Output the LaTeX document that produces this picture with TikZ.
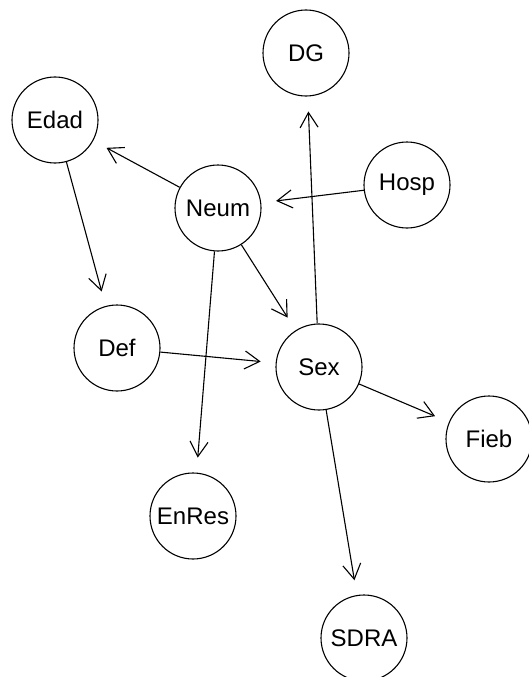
\documentclass[tikz,border=0pt]{standalone}
\usepackage{fontspec}
\setmainfont{Liberation Sans}
\usetikzlibrary{arrows.meta}
\begin{document}
\begin{tikzpicture}[x=1pt, y=-1pt,
  var/.style={circle, draw, line width=1.1pt, minimum size=86pt, inner sep=0pt,
              font=\fontsize{24}{28}\selectfont},
  edge/.style={line width=1.1pt, -{Straight Barb[length=15pt, width=18pt, line width=1.1pt]},
               shorten >=15pt}]
  \useasboundingbox (0,0) rectangle (529,677);
  \clip (0,0) rectangle (529,677);
  \node[var] (DG)    at (306, 53)  {DG};
  \node[var] (Edad)  at (55, 120)  {Edad};
  \node[var] (Hosp)  at (407, 185) {Hosp};
  \node[var] (Neum)  at (218, 208) {Neum};
  \node[var] (Def)   at (117, 348) {Def};
  \node[var] (Sex)   at (319, 367) {Sex};
  \node[var] (Fieb)  at (489, 439) {Fieb};
  \node[var] (EnRes) at (193, 516) {EnRes};
  \node[var] (SDRA)  at (364, 638) {SDRA};
  \draw[edge] (Neum) -- (Edad);
  \draw[edge] (Edad) -- (Def);
  \draw[edge] (Hosp) -- (Neum);
  \draw[edge] (Neum) -- (Sex);
  \draw[edge] (Sex) -- (DG);
  \draw[edge] (Neum) -- (EnRes);
  \draw[edge] (Def) -- (Sex);
  \draw[edge] (Sex) -- (Fieb);
  \draw[edge] (Sex) -- (SDRA);
\end{tikzpicture}
\end{document}
